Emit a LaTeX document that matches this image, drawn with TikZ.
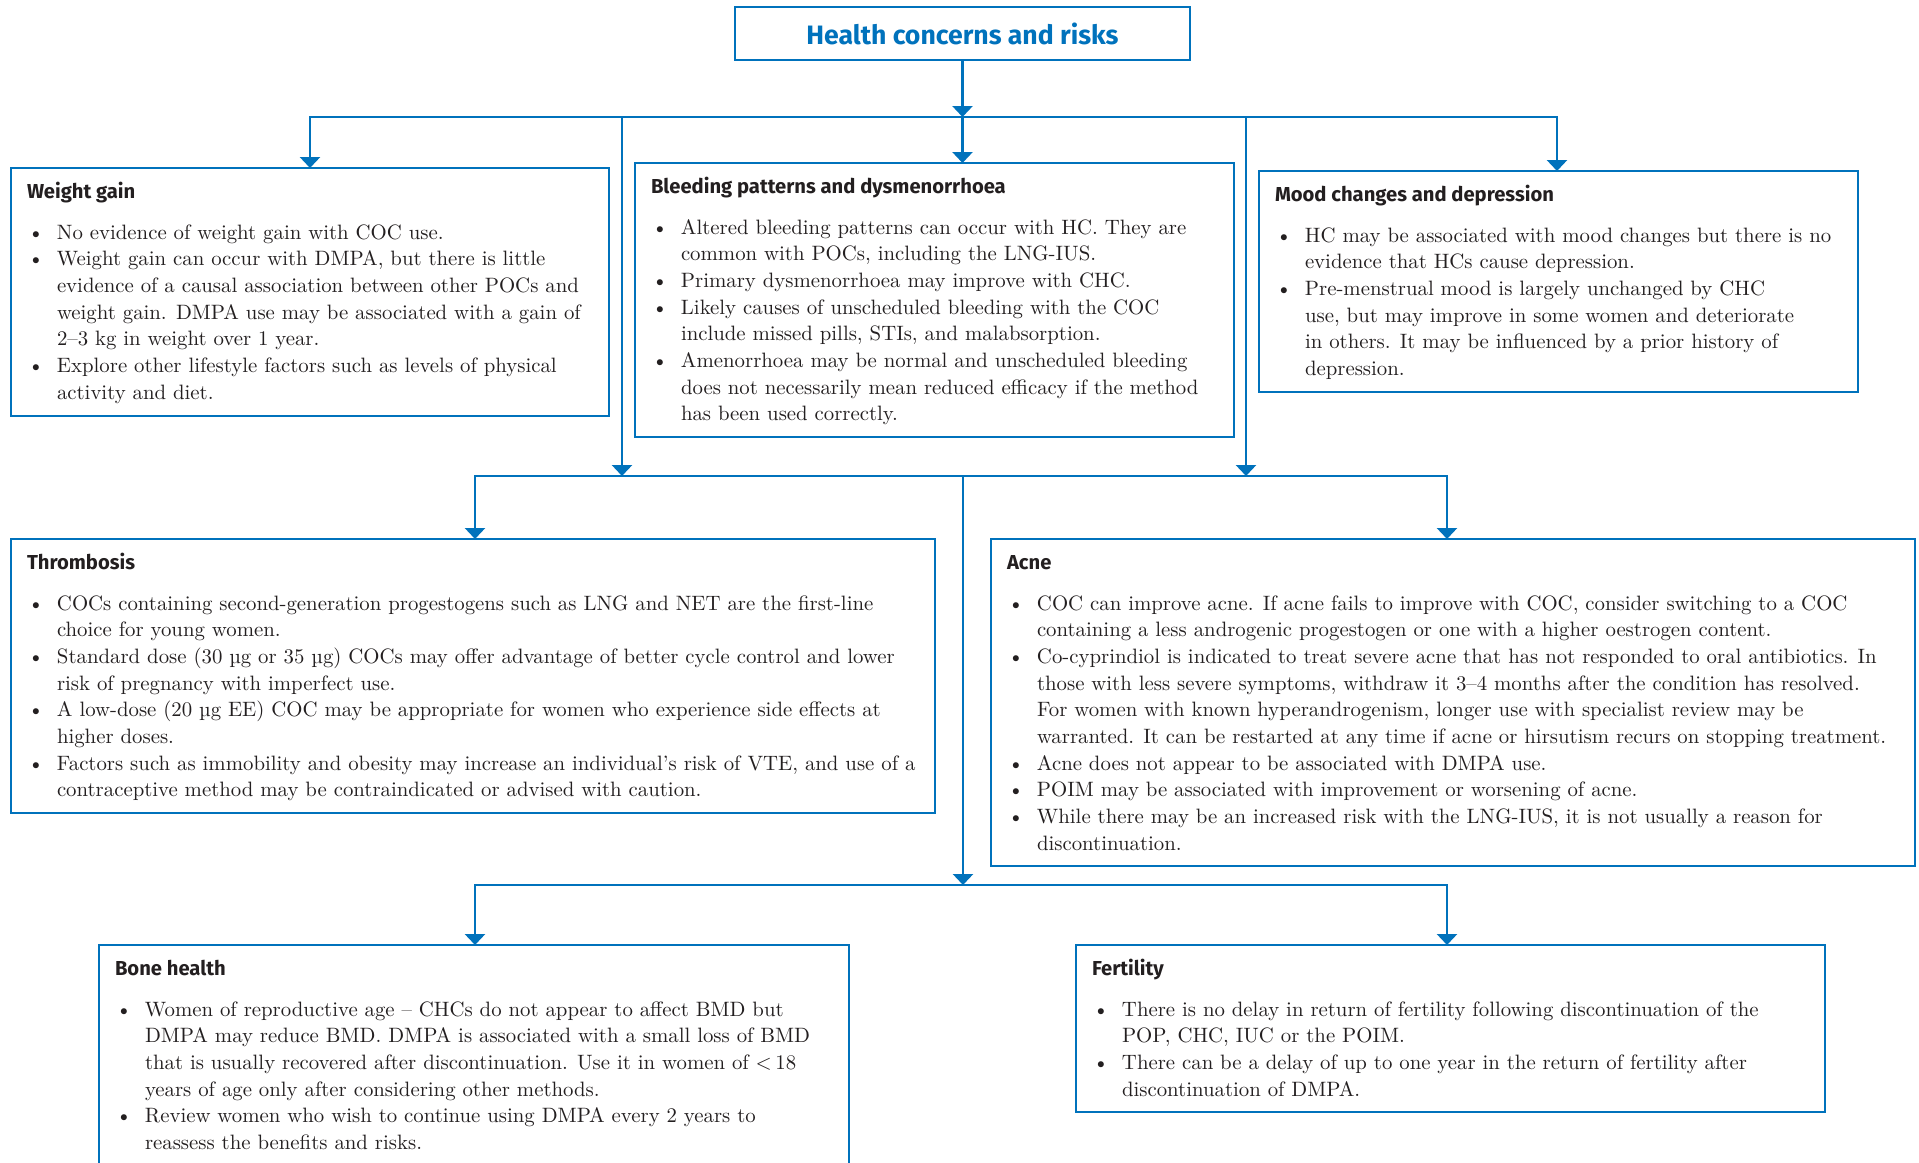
\documentclass[tikz,border=0pt]{standalone}
\usepackage{fontspec}
\usepackage{tikz}
\usetikzlibrary{arrows.meta}

\newfontfamily\headfont{Fira Sans}
\definecolor{hcblue}{RGB}{0,114,188}
\definecolor{hctext}{RGB}{35,31,32}

% frame body: width, height, heading, bullet list
\newcommand{\panelbody}[4]{%
  \parbox[t][#2][t]{#1}{%
    \leftskip=8pt \rightskip=0pt plus 1fil \parfillskip=0pt plus 1fil
    \fontsize{10.4pt}{13.35pt}\selectfont
    {\headfont\bfseries\fontsize{10.1pt}{12pt}\selectfont\rule{0pt}{15pt}#3\par}%
    \vspace{7.15pt}%
    #4}}
\newcommand{\bul}[1]{\par\hangindent=15pt\hangafter=1\noindent
  \makebox[15pt][l]{\hspace{0.4pt}\textbullet}#1\par}

\begin{document}
\begin{tikzpicture}[
    x=0.5pt, y=-0.5pt,
    panel/.style={
        draw=hcblue,
        line width=0.7pt,
        anchor=north west,
        inner sep=0pt,
        outer sep=0pt,
        text=hctext
    },
    titlebox/.style={
        draw=hcblue,
        line width=0.7pt,
        minimum width=227.5pt,
        minimum height=26.5pt,
        inner sep=0pt,
        text=hcblue,
        font=\headfont\bfseries\fontsize{13.3pt}{15pt}\selectfont
    },
    wire/.style={draw=hcblue, line width=1.35pt, line cap=rect},
    arrow/.style={wire, -{Triangle[width=10pt,length=5.5pt]}}
]
\path[fill=white, use as bounding box] (0,0) rectangle (1919,1163);
\clip (0,0) rectangle (1919,1163);

\node[titlebox] (title) at (962.5,33.5) {Health concerns and risks};

% first row
\node[panel] (weight) at (11,168) {\panelbody{299pt}{124pt}{Weight gain}{%
  \bul{No evidence of weight gain with COC use.}
  \bul{Weight gain can occur with DMPA, but there is little\\
    evidence of a causal association between other POCs and\\
    weight gain. DMPA use may be associated with a gain of\\
    2--3 kg in weight over 1 year.}
  \bul{Explore other lifestyle factors such as levels of physical\\
    activity and diet.}}};

\node[panel] (bleed) at (635,163) {\panelbody{299.5pt}{137pt}{Bleeding patterns and dysmenorrhoea}{%
  \bul{Altered bleeding patterns can occur with HC. They are\\
    common with POCs, including the LNG-IUS.}
  \bul{Primary dysmenorrhoea may improve with CHC.}
  \bul{Likely causes of unscheduled bleeding with the COC\\
    include missed pills, STIs, and malabsorption.}
  \bul{Amenorrhoea may be normal and unscheduled bleeding\\
    does not necessarily mean reduced efficacy if the method\\
    has been used correctly.}}};

\node[panel] (mood) at (1259,171) {\panelbody{299.5pt}{110.5pt}{Mood changes and depression}{%
  \bul{HC may be associated with mood changes but there is no\\
    evidence that HCs cause depression.}
  \bul{Pre-menstrual mood is largely unchanged by CHC\\
    use, but may improve in some women and deteriorate\\
    in others. It may be influenced by a prior history of\\
    depression.}}};

% second row
\node[panel] (thromb) at (11,539) {\panelbody{462pt}{137pt}{Thrombosis}{%
  \bul{COCs containing second-generation progestogens such as LNG and NET are the first-line\\
    choice for young women.}
  \bul{Standard dose (30 µg or 35 µg) COCs may offer advantage of better cycle control and lower\\
    risk of pregnancy with imperfect use.}
  \bul{A low-dose (20 µg EE) COC may be appropriate for women who experience side effects at\\
    higher doses.}
  \bul{Factors such as immobility and obesity may increase an individual’s risk of VTE, and use of a\\
    contraceptive method may be contraindicated or advised with caution.}}};

\node[panel] (acne) at (991,539) {\panelbody{462pt}{163.5pt}{Acne}{%
  \bul{COC can improve acne. If acne fails to improve with COC, consider switching to a COC\\
    containing a less androgenic progestogen or one with a higher oestrogen content.}
  \bul{Co-cyprindiol is indicated to treat severe acne that has not responded to oral antibiotics. In\\
    those with less severe symptoms, withdraw it 3--4 months after the condition has resolved.\\
    For women with known hyperandrogenism, longer use with specialist review may be\\
    warranted. It can be restarted at any time if acne or hirsutism recurs on stopping treatment.}
  \bul{Acne does not appear to be associated with DMPA use.}
  \bul{POIM may be associated with improvement or worsening of acne.}
  \bul{While there may be an increased risk with the LNG-IUS, it is not usually a reason for\\
    discontinuation.}}};

% third row
\node[panel] (bone) at (99,945) {\panelbody{375pt}{120pt}{Bone health}{%
  \bul{Women of reproductive age -- CHCs do not appear to affect BMD but\\
    DMPA may reduce BMD. DMPA is associated with a small loss of BMD\\
    that is usually recovered after discontinuation. Use it in women of <\,18\\
    years of age only after considering other methods.}
  \bul{Review women who wish to continue using DMPA every 2 years to\\
    reassess the benefits and risks.}}};

\node[panel] (fert) at (1076,945) {\panelbody{374.5pt}{83.5pt}{Fertility}{%
  \bul{There is no delay in return of fertility following discontinuation of the\\
    POP, CHC, IUC or the POIM.}
  \bul{There can be a delay of up to one year in the return of fertility after\\
    discontinuation of DMPA.}}};

% bus lines
\coordinate (busA) at (962.5,117);
\coordinate (busAl) at (310,117);
\coordinate (busAr) at (1557,117);
\coordinate (tapL) at (622,117);
\coordinate (tapR) at (1246,117);
\coordinate (busB) at (963,476);
\coordinate (busBl) at (475,476);
\coordinate (busBr) at (1447,476);
\coordinate (busC) at (963,885);
\coordinate (busCl) at (475,885);
\coordinate (busCr) at (1447,885);

\draw[arrow] (title.south) -- (busA);
\draw[wire] (busAl) -- (busAr);
\draw[arrow] (busAl) -- (busAl |- weight.north);
\draw[arrow] (busA) -- (busA |- bleed.north);
\draw[arrow] (busAr) -- (busAr |- mood.north);
\draw[arrow] (tapL) -- (tapL |- busB);
\draw[arrow] (tapR) -- (tapR |- busB);

\draw[wire] (busBl) -- (busBr);
\draw[arrow] (busBl) -- (busBl |- thromb.north);
\draw[arrow] (busBr) -- (busBr |- acne.north);
\draw[arrow] (busB) -- (busC);

\draw[wire] (busCl) -- (busCr);
\draw[arrow] (busCl) -- (busCl |- bone.north);
\draw[arrow] (busCr) -- (busCr |- fert.north);
\end{tikzpicture}
\end{document}
